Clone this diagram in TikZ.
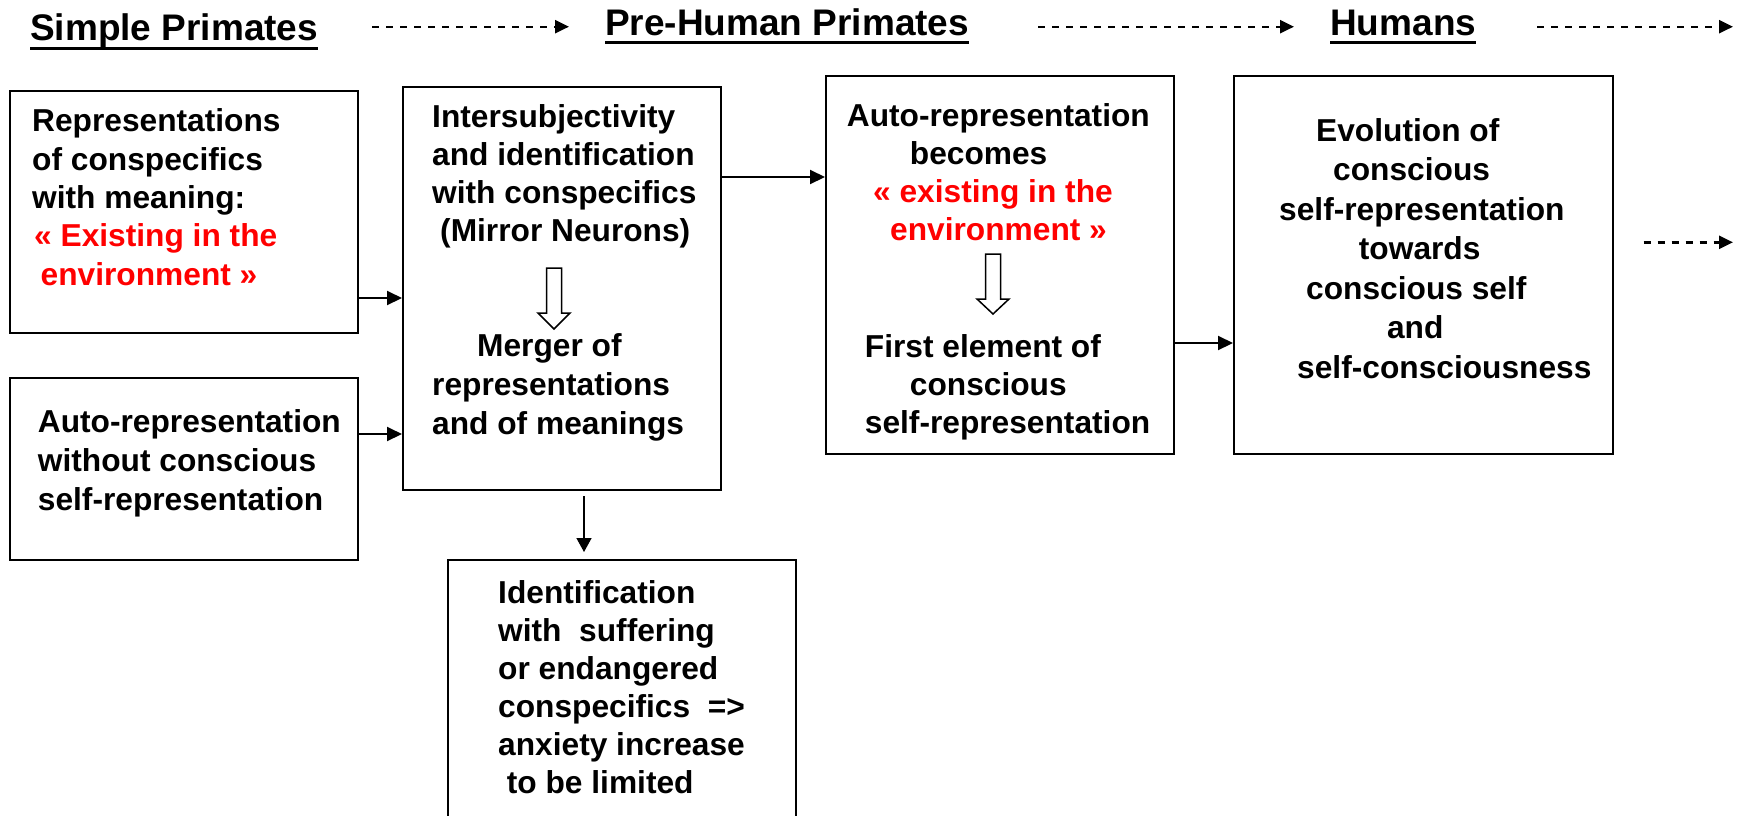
\documentclass[tikz,border=0pt]{standalone}
\usepackage{fontspec}
\setmainfont{Liberation Sans}
\usetikzlibrary{arrows.meta}
\definecolor{redtxt}{RGB}{255,0,0}
\tikzset{
  boxst/.style={draw, line width=2pt, inner sep=0pt},
  ttl/.style={anchor=base west, inner sep=0pt, font=\bfseries\fontsize{37}{44}\selectfont},
  txt/.style={anchor=north west, inner sep=0pt, align=left},
  arr/.style={line width=2pt, -{Triangle[length=15pt,width=14pt]}},
  thinarr/.style={line width=1.4pt, -{Triangle[length=14pt,width=15pt]}},
  dasharr/.style={line width=2.4pt, dash pattern=on 7pt off 7pt, -{Triangle[length=14pt,width=13pt]}},
  hollow/.style={draw, line width=1.5pt, fill=white, line join=miter},
  uline/.style={line width=3pt}
}
\newcommand{\ftA}[1]{\bfseries\fontsize{31.7}{#1}\selectfont}
\begin{document}
\begin{tikzpicture}[x=1pt,y=-1pt]
\useasboundingbox[fill=white] (0,0) rectangle (1739,815);

% titles
\node[ttl] (t1) at (30,40) {Simple Primates};
\node[ttl] (t2) at (605,35) {Pre-Human Primates};
\node[ttl] (t3) at (1330,35) {Humans};
\draw[uline] ([yshift=-8pt]t1.base west) -- ([yshift=-8pt]t1.base east);
\draw[uline] ([yshift=-7pt]t2.base west) -- ([yshift=-7pt]t2.base east);
\draw[uline] ([yshift=-7pt]t3.base west) -- ([yshift=-7pt]t3.base east);

\coordinate (d1s) at (372,26.7);  \coordinate (d1e) at (569,26.7);
\coordinate (d2s) at (1038,26.7); \coordinate (d2e) at (1294,26.7);
\coordinate (d3s) at (1537,26.7); \coordinate (d3e) at (1733,26.7);
\draw[dasharr] (d1s) -- (d1e);
\draw[dasharr] (d2s) -- (d2e);
\draw[dasharr] (d3s) -- (d3e);

% boxes
\node[boxst, minimum width=348pt, minimum height=242pt] (A) at (184,212) {};
\node[boxst, minimum width=318pt, minimum height=403pt] (B) at (562,288.5) {};
\node[boxst, minimum width=348pt, minimum height=378pt] (C) at (1000,265) {};
\node[boxst, minimum width=378.6pt, minimum height=378pt] (D) at (1423.3,265) {};
\node[boxst, minimum width=348pt, minimum height=182pt] (E) at (184,469) {};
\node[boxst, minimum width=348pt, minimum height=290pt] (F) at (622,705) {};

% texts
\node[txt, font=\ftA{38.3}] (tA) at (32,104.9) {\strut Representations\\
of conspecifics\\
with meaning:\\
\textcolor{redtxt}{\hspace*{2pt}« Existing in the}\\
\textcolor{redtxt}{\hspace*{8.5pt}environment »}};

\node[txt, font=\ftA{38}] (tB1) at (432,101.1) {\strut Intersubjectivity\\
and identification\\
with conspecifics\\
\hspace*{8pt}(Mirror Neurons)};

\node[txt, font=\ftA{38.7}] (tB2) at (432,329.6) {\strut\hspace*{45pt}Merger of\\
representations\\
and of meanings};

\node[txt, font=\ftA{38.2}] (tC1) at (846.7,99.3) {\strut Auto-representation\\
\hspace*{63pt}becomes\\
\textcolor{redtxt}{\hspace*{26.3pt}« existing in the}\\
\textcolor{redtxt}{\hspace*{43.3pt}environment »}};

\node[txt, font=\ftA{37.9}] (tC2) at (864.7,330.5) {\strut First element of\\
\hspace*{45pt}conscious\\
self-representation};

\node[txt, font=\ftA{39.5}] (tD) at (1279,113.4) {\strut\hspace*{37pt}Evolution of\\
\hspace*{54pt}conscious\\
self-representation\\
\hspace*{79.7pt}towards\\
\hspace*{27pt}conscious self\\
\hspace*{107.8pt}and\\
\hspace*{18pt}self-consciousness};

\node[txt, font=\ftA{38.7}] (tE) at (37.7,405.6) {\strut Auto-representation\\
without conscious\\
self-representation};

\node[txt, font=\ftA{38}] (tF) at (498,576.4) {\strut Identification\\
with\ \ suffering\\
or endangered\\
conspecifics\ \ =>\\
anxiety increase\\
\hspace*{8.7pt}to be limited};

% hollow arrows
\draw[hollow] (546.5,268) -- (561.5,268) -- (561.5,313) -- (570,313) -- (554,329) -- (538,313) -- (546.5,313) -- cycle;
\draw[hollow] (985.5,254) -- (1000.5,254) -- (1000.5,299) -- (1009,299) -- (993,314) -- (977,299) -- (985.5,299) -- cycle;

% connectors
\draw[arr] ([yshift=-86pt]A.east) -- ([yshift=-86pt]A.east -| B.west);
\draw[arr] ([yshift=35pt]E.east) -- ([yshift=35pt]E.east -| B.west);
\draw[arr] ([yshift=111.5pt]B.east) -- ([yshift=111.5pt]B.east -| C.west);
\draw[arr] ([yshift=-78pt]C.east) -- ([yshift=-78pt]C.east -| D.west);
\draw[thinarr] ([xshift=22pt,yshift=-5pt]B.south) -- ([xshift=-38pt,yshift=7pt]F.north);
\coordinate (d4e) at (1733,242.3);
\draw[dasharr] ([xshift=30pt,yshift=22.7pt]D.east) -- (d4e);
\end{tikzpicture}
\end{document}
